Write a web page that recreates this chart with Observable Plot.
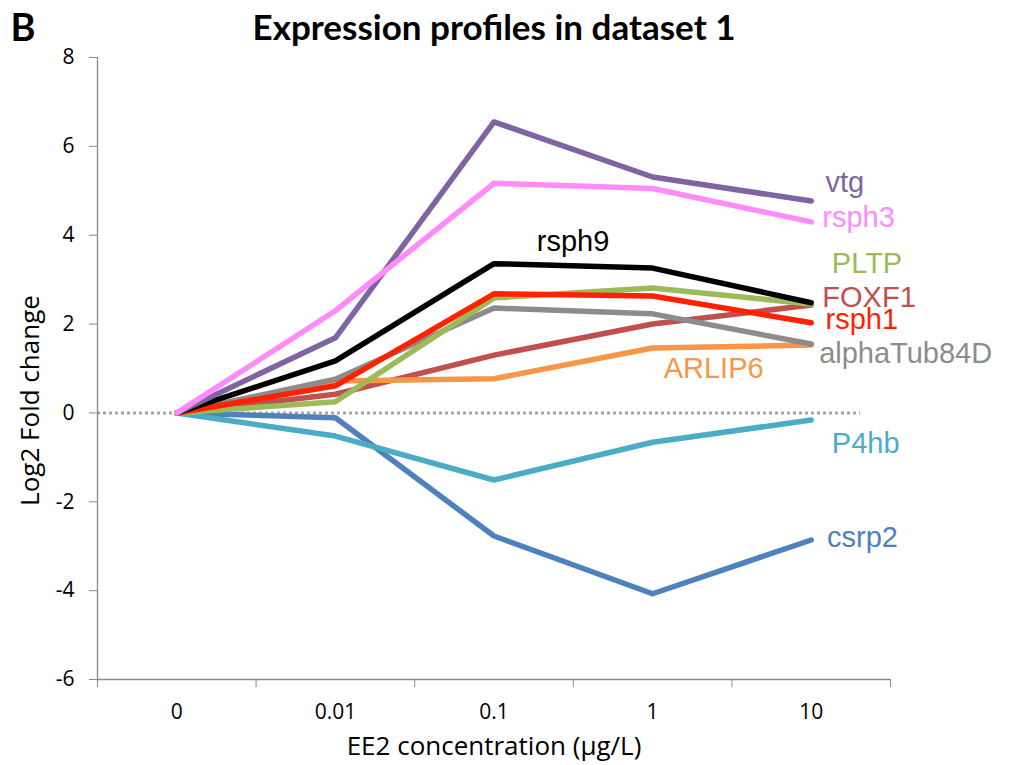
<!DOCTYPE html>
<html><head><meta charset="utf-8">
<script src="https://cdn.jsdelivr.net/npm/d3@7"></script>
<script src="https://cdn.jsdelivr.net/npm/@observablehq/plot@0.6"></script>
<style>body{margin:0;background:#fff}</style>
</head><body><div id="chart"></div>
<script>
// Categories (EE2 concentration, µg/L)
const concentrations = ["0", "0.01", "0.1", "1", "10"];
const yTicks = [-6, -4, -2, 0, 2, 4, 6, 8];

// Series values (log2 fold change)
const csrp2       = [0, -0.11, -2.77, -4.07, -2.86];
const P4hb        = [0, -0.52, -1.51, -0.66, -0.16];
const FOXF1       = [0,  0.42,  1.30,  2.00,  2.43];
const ARLIP6      = [0,  0.72,  0.77,  1.46,  1.53];
const alphaTub84D = [0,  0.76,  2.36,  2.23,  1.55];
const PLTP        = [0,  0.25,  2.59,  2.81,  2.45];
const rsph1       = [0,  0.61,  2.68,  2.63,  2.03];
const rsph9       = [0,  1.17,  3.36,  3.26,  2.48];
const vtg         = [0,  1.69,  6.55,  5.31,  4.77];
const rsph3       = [0,  2.30,  5.17,  5.05,  4.30];

const genes  = ["csrp2","P4hb","FOXF1","ARLIP6","alphaTub84D","PLTP","rsph1","rsph9","vtg","rsph3"];
const series = [csrp2, P4hb, FOXF1, ARLIP6, alphaTub84D, PLTP, rsph1, rsph9, vtg, rsph3];
const colors = ["#4f81bd","#4bacc6","#c0504d","#f79646","#8c8c8c","#9bbb59","#ff2200","#000000","#8064a2","#ff8cfa"];

// Label anchors (left edge) in data units (x = category index, y = log2 FC)
const labelGenes = ["vtg","rsph3","rsph9","PLTP","FOXF1","rsph1","alphaTub84D","ARLIP6","P4hb","csrp2"];
const labelX     = [4.09, 4.07, 2.27, 4.13, 4.07, 4.09, 4.05, 3.07, 4.13, 4.10];
const labelY     = [5.18, 4.39, 3.85, 3.35, 2.60, 2.09, 1.33, 0.99, -0.70, -2.81];

const rows = [];
genes.forEach((g, gi) => series[gi].forEach((v, i) => rows.push({gene: g, x: i, y: v})));
const labels = labelGenes.map((g, i) => ({gene: g, x: labelX[i], y: labelY[i]}));

const axisColor = "#8a8a8a";
const axisFont = "'Open Sans', Lato, sans-serif";
const chart = Plot.plot({
  width: 1011, height: 765,
  marginLeft: 97, marginRight: 121, marginTop: 57, marginBottom: 86,
  style: {fontFamily: axisFont, fontSize: "21px", color: "#000", background: "#fff"},
  x: {domain: [-0.5, 4.5], axis: null},
  y: {domain: [-6, 8], axis: null},
  color: {domain: genes, range: colors},
  marks: [
    Plot.ruleY([0], {x1: -0.5, x2: 4.31, stroke: "#a6a6a6", strokeWidth: 3, strokeDasharray: "3,3"}),
    Plot.ruleX([-0.5], {y1: -6, y2: 8, stroke: axisColor, strokeWidth: 1.3}),
    Plot.ruleY([-6], {x1: -0.5, x2: 4.5, stroke: axisColor, strokeWidth: 1.3}),
    Plot.axisY({ticks: yTicks, tickSize: 8, tickPadding: 15, stroke: axisColor, fontSize: 21, tickFormat: d => String(d), label: null}),
    Plot.axisX({ticks: [-0.5, 0.5, 1.5, 2.5, 3.5, 4.5], tickSize: 8, stroke: axisColor, tickFormat: () => "", label: null}),
    Plot.axisX({ticks: [0, 1, 2, 3, 4], tickSize: 0, tickPadding: 25, tickFormat: i => concentrations[i], fontSize: 21, label: null}),
    Plot.line(rows, {x: "x", y: "y", z: "gene", stroke: "gene", strokeWidth: 5.5, strokeLinecap: "round", strokeLinejoin: "round"}),
    Plot.text(labels, {x: "x", y: "y", text: "gene", fill: "gene", textAnchor: "start", lineAnchor: "middle",
      fontFamily: "'Liberation Sans', Arial, sans-serif", fontSize: 29}),
    Plot.text(["Log2 Fold change"], {frameAnchor: "left", dx: -67, dy: 32, rotate: -90, fontSize: 26, textAnchor: "middle", lineAnchor: "middle"}),
    Plot.text(["EE2 concentration (\u00b5g/L)"], {frameAnchor: "bottom", dy: 67, fontSize: 26, textAnchor: "middle", lineAnchor: "middle"}),
    Plot.text(["Expression profiles in dataset 1"], {frameAnchor: "top", dy: -29, fontSize: 35, fontWeight: "bold", fontFamily: "Lato, sans-serif", textAnchor: "middle", lineAnchor: "middle"}),
    Plot.text(["B"], {frameAnchor: "top-left", dx: -87, dy: -29, fontSize: 38, fontWeight: "bold", fontFamily: "Lato, sans-serif", textAnchor: "start", lineAnchor: "middle"})
  ]
});
document.getElementById("chart").append(chart);
</script>
</body></html>
